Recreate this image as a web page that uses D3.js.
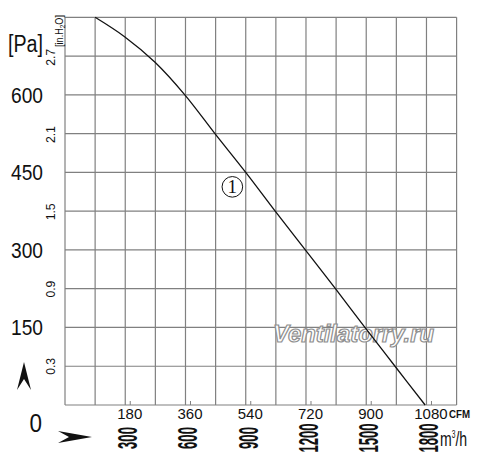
<!DOCTYPE html>
<html>
<head>
<meta charset="utf-8">
<script src="https://cdn.jsdelivr.net/npm/d3@7"></script>
<style>
  body { margin: 0; background: #fff; }
  svg { display: block; }
</style>
</head>
<body>
<svg width="500" height="472"></svg>
<script>
// fan curve
const flowCfm = [90, 179, 269, 358, 448, 540, 628, 718, 808, 896, 986, 1076];
const pressurePa = [750, 712, 663, 600, 525, 450, 375, 300, 225, 150, 75, 0];

const paTicks = [150, 300, 450, 600];
const inH2oTicks = [0.3, 0.9, 1.5, 2.1, 2.7];
const cfmTicks = [180, 360, 540, 720, 900, 1080];
const m3hTicks = [300, 600, 900, 1200, 1500, 1800];

const svg = d3.select('svg');
const gridColor = '#808080';
const sans = '"Liberation Sans", Arial, sans-serif';

const x = d3.scaleLinear().domain([0, 1170]).range([65, 456.6]);
const y = d3.scaleLinear().domain([0, 750]).range([405, 17.3]);
// m3/h labels are placed under the CFM ones (300 m3/h ~ 180 CFM on this chart)
const xM3h = d3.scaleLinear().domain([0, 1950]).range(x.range());
const paPerInH2o = 249.09;

// grid
svg.append('g')
    .selectAll('line')
    .data(d3.range(0, 1171, 90))
    .join('line')
    .attr('x1', d => x(d)).attr('x2', d => x(d))
    .attr('y1', y(0)).attr('y2', y(750))
    .attr('stroke', gridColor).attr('stroke-width', 1.2);

svg.append('g')
    .selectAll('line')
    .data(d3.range(0, 751, 75))
    .join('line')
    .attr('x1', x(0)).attr('x2', x(1170))
    .attr('y1', d => y(d)).attr('y2', d => y(d))
    .attr('stroke', gridColor).attr('stroke-width', 1.2);

// small ticks under the cfm labels
svg.append('g')
    .selectAll('line')
    .data(cfmTicks)
    .join('line')
    .attr('x1', d => x(d) + 5).attr('x2', d => x(d) + 5)
    .attr('y1', y(0) - 4).attr('y2', y(0))
    .attr('stroke', gridColor).attr('stroke-width', 1);

// watermark
svg.append('text')
    .attr('x', 273).attr('y', 342)
    .attr('font-family', sans)
    .attr('font-size', 23)
    .attr('font-weight', 'bold')
    .attr('font-style', 'italic')
    .attr('fill', '#fff')
    .attr('stroke', '#8f8f8f')
    .attr('stroke-width', 1.2)
    .attr('textLength', 161)
    .attr('lengthAdjust', 'spacingAndGlyphs')
    .text('Ventilatorry.ru');

// curve
const line = d3.line()
    .x((d, i) => x(flowCfm[i]))
    .y(d => y(d))
    .curve(d3.curveCatmullRom.alpha(0.5));

svg.append('path')
    .datum(pressurePa)
    .attr('d', line)
    .attr('fill', 'none')
    .attr('stroke', '#111')
    .attr('stroke-width', 1.3);

// curve number
const markCfm = 500, markPa = 422;
svg.append('circle')
    .attr('cx', x(markCfm)).attr('cy', y(markPa))
    .attr('r', 10.3)
    .attr('fill', 'none')
    .attr('stroke', '#111')
    .attr('stroke-width', 1);
svg.append('text')
    .attr('x', x(markCfm)).attr('y', y(markPa) + 6.5)
    .attr('text-anchor', 'middle')
    .attr('font-family', '"Liberation Serif", "DejaVu Serif", serif')
    .attr('font-size', 19)
    .attr('fill', '#111')
    .text('1');

// Pa labels (narrow lettering)
svg.append('g')
    .selectAll('text')
    .data(paTicks)
    .join('text')
    .attr('x', 43)
    .attr('y', d => y(d) + 8)
    .attr('text-anchor', 'end')
    .attr('font-family', sans)
    .attr('font-size', 22)
    .attr('textLength', 32)
    .attr('lengthAdjust', 'spacingAndGlyphs')
    .attr('fill', '#111')
    .text(d => d);

svg.append('text')
    .attr('x', 42).attr('y', 432)
    .attr('text-anchor', 'end')
    .attr('font-family', sans)
    .attr('font-size', 26)
    .attr('textLength', 12.5)
    .attr('lengthAdjust', 'spacingAndGlyphs')
    .attr('fill', '#111')
    .text('0');

svg.append('text')
    .attr('x', 8).attr('y', 52)
    .attr('font-family', sans)
    .attr('font-size', 23)
    .attr('textLength', 35)
    .attr('lengthAdjust', 'spacingAndGlyphs')
    .attr('fill', '#111')
    .text('[Pa]');

// inH2O labels, rotated
svg.append('g')
    .selectAll('text')
    .data(inH2oTicks)
    .join('text')
    .attr('transform', d => `translate(54.5,${y(d * paPerInH2o)}) rotate(-90)`)
    .attr('text-anchor', 'middle')
    .attr('font-family', sans)
    .attr('font-size', 13)
    .attr('textLength', 17)
    .attr('lengthAdjust', 'spacingAndGlyphs')
    .attr('fill', '#111')
    .text(d => d.toFixed(1));

const inUnit = svg.append('text')
    .attr('transform', `translate(62.5,31) rotate(-90)`)
    .attr('text-anchor', 'middle')
    .attr('font-family', sans)
    .attr('font-size', 10)
    .attr('textLength', 32)
    .attr('lengthAdjust', 'spacingAndGlyphs')
    .attr('fill', '#111');
inUnit.append('tspan').text('[in.H');
inUnit.append('tspan').attr('font-size', 7).attr('dy', 2).text('2');
inUnit.append('tspan').attr('dy', -2).text('O]');

// CFM labels
svg.append('g')
    .selectAll('text')
    .data(cfmTicks)
    .join('text')
    .attr('x', d => x(d) + 4.5)
    .attr('y', 419)
    .attr('text-anchor', 'middle')
    .attr('font-family', sans)
    .attr('font-size', 15)
    .attr('fill', '#111')
    .text(d => d);

svg.append('text')
    .attr('x', 449).attr('y', 418)
    .attr('font-family', sans)
    .attr('font-size', 11.5)
    .attr('font-weight', 'bold')
    .attr('textLength', 21)
    .attr('lengthAdjust', 'spacingAndGlyphs')
    .attr('fill', '#111')
    .text('CFM');

// m3/h labels, rotated and squeezed
svg.append('g')
    .selectAll('text')
    .data(m3hTicks)
    .join('text')
    .attr('transform', d => `translate(${xM3h(d) + 12},438) rotate(-90)`)
    .attr('text-anchor', 'middle')
    .attr('font-family', sans)
    .attr('font-size', 28)
    .attr('font-weight', 'bold')
    .attr('textLength', d => String(d).length * 7.3)
    .attr('lengthAdjust', 'spacingAndGlyphs')
    .attr('fill', '#111')
    .text(d => d);

// unit, squeezed sideways
const m3Unit = svg.append('text')
    .attr('transform', 'translate(440,446) scale(0.67,1)')
    .attr('font-family', sans)
    .attr('font-size', 21)
    .attr('fill', '#111');
m3Unit.append('tspan').text('m');
m3Unit.append('tspan').attr('font-size', 10).attr('dy', -8).text('3');
m3Unit.append('tspan').attr('dy', 8).text('/h');

// axis arrows
svg.append('path')
    .attr('d', 'M24,362 L31,390 L24,379 L17,390 Z')
    .attr('fill', '#111');
svg.append('path')
    .attr('d', 'M58,431 L92,437 L58,443 L69,437 Z')
    .attr('fill', '#111');
</script>
</body>
</html>
